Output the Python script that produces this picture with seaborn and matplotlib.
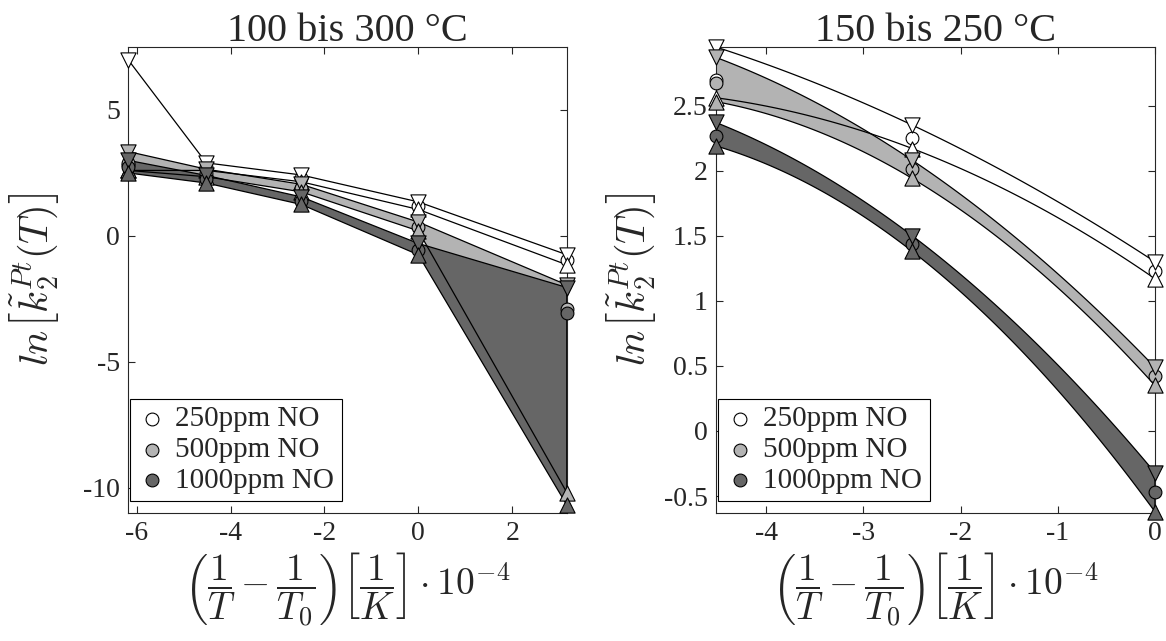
import numpy as np
import matplotlib
matplotlib.use('Agg')
import matplotlib.pyplot as plt
import seaborn as sns
from matplotlib.ticker import FuncFormatter

# reference temperature T0 = 150 degC
T0_C = 150.0

# left panel: 300, 250, 200, 150, 100 degC
temps_left = [300, 250, 200, 150, 100]
est_250_l = [2.80, 2.75, 2.30, 1.20, -0.95]
up_250_l = [7.00, 2.90, 2.42, 1.35, -0.75]
lo_250_l = [2.60, 2.60, 2.15, 1.05, -1.15]
est_500_l = [2.90, 2.50, 1.90, 0.35, -2.90]
up_500_l = [3.35, 2.65, 2.05, 0.55, -1.95]
lo_500_l = [2.60, 2.35, 1.75, 0.20, -10.20]
est_1000_l = [2.75, 2.25, 1.40, -0.55, -3.05]
up_1000_l = [3.00, 2.40, 1.55, -0.30, -2.05]
lo_1000_l = [2.50, 2.10, 1.25, -0.75, -10.70]

# right panel: 250, 200, 150 degC
temps_right = [250, 200, 150]
est_250_r = [2.70, 2.25, 1.23]
up_250_r = [2.95, 2.35, 1.30]
lo_250_r = [2.56, 2.17, 1.17]
est_500_r = [2.67, 2.01, 0.42]
up_500_r = [2.87, 2.08, 0.49]
lo_500_r = [2.53, 1.94, 0.35]
est_1000_r = [2.27, 1.44, -0.47]
up_1000_r = [2.37, 1.50, -0.32]
lo_1000_r = [2.19, 1.38, -0.62]

labels = ['250ppm NO', '500ppm NO', '1000ppm NO']
face = ['white', '#b3b3b3', '#666666']


def inv_temp(temps):
    t = np.asarray(temps, dtype=float) + 273.15
    return (1.0 / t - 1.0 / (T0_C + 273.15)) * 1e4


def draw_panel(ax, x, groups, curved):
    if curved:
        xs = np.linspace(x.min(), x.max(), 200)
        smooth = lambda y: np.polyval(np.polyfit(x, y, 2), xs)
    else:
        xs = x
        smooth = lambda y: np.asarray(y, dtype=float)

    # bands first, then outlines on top of all fills
    for (est, up, lo), c in zip(groups, face):
        ax.fill_between(xs, smooth(lo), smooth(up), facecolor=c,
                        edgecolor='none', zorder=1)
    for (est, up, lo), c in zip(groups, face):
        ax.fill_between(xs, smooth(lo), smooth(up), facecolor='none',
                        edgecolor='black', lw=0.9, zorder=2)

    # circle behind, triangles on top
    for (est, up, lo), c, lab in zip(groups, face, labels):
        sns.scatterplot(x=x, y=est, marker='o', s=85, color=c, edgecolor='black',
                        linewidth=0.8, ax=ax, zorder=3, clip_on=False, label=lab)
        sns.scatterplot(x=x, y=up, marker='v', s=120, color=c, edgecolor='black',
                        linewidth=0.8, ax=ax, zorder=3, clip_on=False)
        sns.scatterplot(x=x, y=lo, marker='^', s=120, color=c, edgecolor='black',
                        linewidth=0.8, ax=ax, zorder=3, clip_on=False)


def plot_figure():
    sns.set_style('ticks')
    plt.rcParams['font.family'] = ['Liberation Serif', 'DejaVu Serif']
    plt.rcParams['mathtext.fontset'] = 'cm'
    plt.rcParams['axes.unicode_minus'] = False

    fig = plt.figure(figsize=(11.66, 6.41), dpi=100)
    ax1 = fig.add_axes([0.1098, 0.1997, 0.3765, 0.727])
    ax2 = fig.add_axes([0.6140, 0.1997, 0.3765, 0.727])

    xl = inv_temp(temps_left)
    draw_panel(ax1, xl, [(est_250_l, up_250_l, lo_250_l),
                         (est_500_l, up_500_l, lo_500_l),
                         (est_1000_l, up_1000_l, lo_1000_l)], curved=False)
    ax1.set_xlim(xl.min(), xl.max())
    ax1.set_ylim(-11, 7.5)
    ax1.set_xticks([-6, -4, -2, 0, 2])
    ax1.set_yticks([-10, -5, 0, 5])
    ax1.set_title('100 bis 300 °C', fontsize=29, pad=4)

    xr = inv_temp(temps_right)
    draw_panel(ax2, xr, [(est_250_r, up_250_r, lo_250_r),
                         (est_500_r, up_500_r, lo_500_r),
                         (est_1000_r, up_1000_r, lo_1000_r)], curved=True)
    ax2.set_xlim(xr.min(), xr.max())
    ax2.set_ylim(-0.63, 2.95)
    ax2.set_xticks([-4, -3, -2, -1, 0])
    ax2.set_yticks([-0.5, 0, 0.5, 1, 1.5, 2, 2.5])
    ax2.set_title('150 bis 250 °C', fontsize=29, pad=4)

    xlabel = r'$\left(\dfrac{1}{T}-\dfrac{1}{T_0}\right)\left[\dfrac{1}{K}\right]\cdot 10^{-4}$'
    ylabel = r'$ln\left[\tilde{k}_2^{Pt}(T)\right]$'
    fmt = FuncFormatter(lambda v, p: '%g' % v)
    for ax, ypad in ((ax1, 16), (ax2, 4)):
        ax.set_xlabel(xlabel, fontsize=27, labelpad=3)
        ax.set_ylabel(ylabel, fontsize=29, labelpad=ypad)
        ax.xaxis.set_major_formatter(fmt)
        ax.yaxis.set_major_formatter(fmt)
        ax.tick_params(direction='in', top=True, right=True, labelsize=20,
                       length=5, width=0.8, color='#262626', pad=6)
        for sp in ax.spines.values():
            sp.set_visible(True)
            sp.set_color('#262626')
            sp.set_linewidth(0.8)
        leg = ax.legend(loc='lower left', bbox_to_anchor=(0.005, 0.025),
                        fontsize=21, frameon=True, fancybox=False,
                        edgecolor='black', framealpha=1, borderpad=0.25,
                        handlelength=1.0, handletextpad=0.3, labelspacing=0.15,
                        borderaxespad=0)
        leg.get_frame().set_linewidth(0.8)

    fig.savefig('out.png', dpi=100)


if __name__ == '__main__':
    plot_figure()
